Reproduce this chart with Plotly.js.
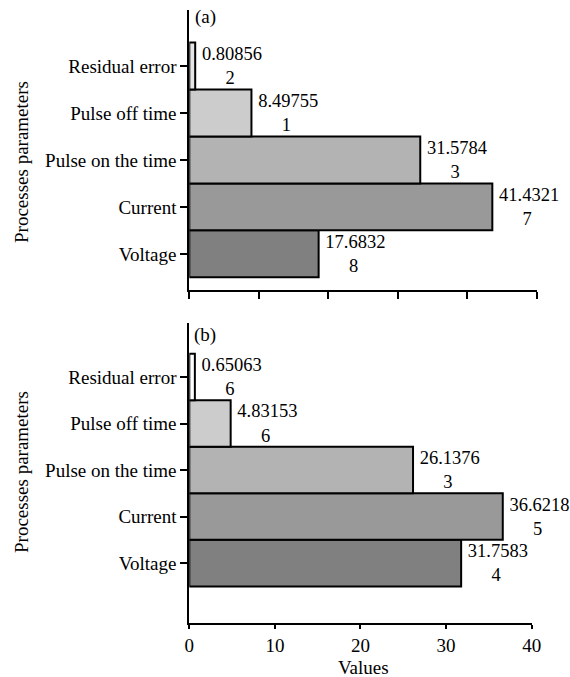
<!DOCTYPE html>
<html>
<head>
<meta charset="utf-8">
<script src="https://cdn.plot.ly/plotly-3.0.1.min.js"></script>
<style>html,body{margin:0;padding:0;background:#fff;}#chart{width:570px;height:677px;}</style>
</head>
<body>
<div id="chart"></div>
<script>
// Data
const params = ['Voltage', 'Current', 'Pulse on the time', 'Pulse off time', 'Residual error'];
const rawA = ['17.68328', '41.43217', '31.57843', '8.497551', '0.808562'];
const rawB = ['31.75834', '36.62185', '26.13763', '4.831536', '0.650636'];
const xTicksB = [0, 10, 20, 30, 40];
const xTicksA = [0, 9.5, 19, 28.5, 38, 47.5];

const valuesA = rawA.map(parseFloat);
const valuesB = rawB.map(parseFloat);
const labelOf = s => '\u2009' + s.slice(0, -1) + '<br>' + s.slice(-1);
const pos = params.map((_, i) => i);

const colorsA = ['#808080', '#999999', '#b3b3b3', '#cccccc', '#e6e6e6'];
const colorsB = ['#808080', '#999999', '#b3b3b3', '#cccccc', '#ffffff'];

const FONT = 'Liberation Serif';

function barTrace(vals, raw, colors, xa, ya) {
  return {
    type: 'bar', orientation: 'h',
    x: vals, y: pos,
    xaxis: xa, yaxis: ya,
    text: raw.map(labelOf),
    textposition: 'outside',
    constraintext: 'none',
    cliponaxis: false,
    textfont: {family: FONT, size: 18.5, color: '#000'},
    marker: {color: colors, line: {color: '#000', width: 2}},
    hoverinfo: 'none'
  };
}

const data = [
  barTrace(valuesA, rawA, colorsA, 'x', 'y'),
  barTrace(valuesB, rawB, colorsB, 'x2', 'y2')
];

const yCommon = {
  tickmode: 'array', tickvals: pos, ticktext: params,
  ticks: 'outside', ticklen: 7, tickwidth: 2, tickcolor: '#000',
  showline: true, linecolor: '#000', linewidth: 2,
  showgrid: false, zeroline: false,
  tickfont: {family: FONT, size: 19, color: '#000'}
};
const xCommon = {
  ticks: 'outside', ticklen: 7, tickwidth: 2, tickcolor: '#000',
  showline: true, linecolor: '#000', linewidth: 2,
  showgrid: false, zeroline: false,
  tickfont: {family: FONT, size: 19, color: '#000'}
};

const layout = {
  width: 570, height: 677,
  margin: {l: 0, r: 0, t: 0, b: 0},
  paper_bgcolor: '#fff', plot_bgcolor: '#fff',
  showlegend: false,
  bargap: 0,
  font: {family: FONT, size: 19, color: '#000'},
  xaxis: Object.assign({}, xCommon, {
    domain: [0.3321, 0.9416], anchor: 'y',
    range: [0, 47.5], tickmode: 'array', tickvals: xTicksA, showticklabels: false
  }),
  yaxis: Object.assign({}, yCommon, {
    domain: [0.5716, 0.9852], anchor: 'x', range: [-0.77, 5.19]
  }),
  xaxis2: Object.assign({}, xCommon, {
    domain: [0.3321, 0.9328], anchor: 'y2', ticklen: 4,
    range: [0, 40], tickmode: 'array', tickvals: xTicksB
  }),
  yaxis2: Object.assign({}, yCommon, {
    domain: [0.0802, 0.5229], anchor: 'x2', range: [-1.28, 5.16]
  }),
  annotations: [
    {text: 'Processes parameters', xref: 'paper', yref: 'paper', x: 0.0368, y: 0.7607,
     textangle: -90, showarrow: false, xanchor: 'center', yanchor: 'middle',
     font: {family: FONT, size: 19, color: '#000'}},
    {text: 'Processes parameters', xref: 'paper', yref: 'paper', x: 0.0368, y: 0.3028,
     textangle: -90, showarrow: false, xanchor: 'center', yanchor: 'middle',
     font: {family: FONT, size: 19, color: '#000'}},
    {text: '(a)', xref: 'paper', yref: 'paper', x: 0.3600, y: 0.975, showarrow: false,
     xanchor: 'center', yanchor: 'middle', font: {family: FONT, size: 19, color: '#000'}},
    {text: '(b)', xref: 'paper', yref: 'paper', x: 0.3600, y: 0.505, showarrow: false,
     xanchor: 'center', yanchor: 'middle', font: {family: FONT, size: 19, color: '#000'}},
    {text: 'Values', xref: 'paper', yref: 'paper', x: 0.637, y: 1 - 667 / 677, showarrow: false,
     xanchor: 'center', yanchor: 'middle', borderpad: 0, font: {family: FONT, size: 19, color: '#000'}}
  ]
};

Plotly.newPlot('chart', data, layout, {displayModeBar: false, staticPlot: true});
</script>
</body>
</html>
